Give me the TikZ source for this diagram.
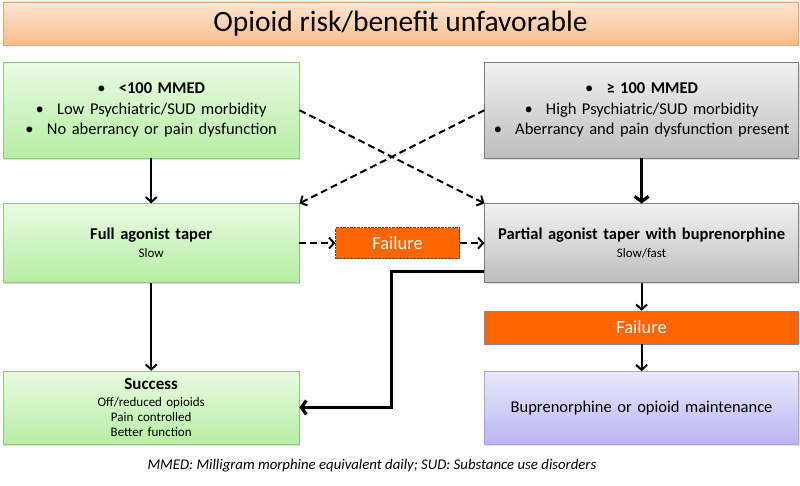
\documentclass[tikz,border=0pt]{standalone}
\usepackage{fontspec}
\setmainfont{Carlito}
\usepackage{tikz}
\usetikzlibrary{positioning, arrows.meta, shadows}
\definecolor{bannertop}{HTML}{FDE6D3}
\definecolor{bannerbot}{HTML}{F9BC8C}
\definecolor{bannerline}{HTML}{F5A66C}
\definecolor{greentop}{HTML}{EAFBE2}
\definecolor{greenbot}{HTML}{B6EEA3}
\definecolor{greenline}{HTML}{8FCB7C}
\definecolor{greytop}{HTML}{F2F2F2}
\definecolor{greybot}{HTML}{BDBDBD}
\definecolor{greyline}{HTML}{7F7F7F}
\definecolor{violettop}{HTML}{EAE8FC}
\definecolor{violetbot}{HTML}{BCB4F2}
\definecolor{violetline}{HTML}{ABA5DA}
\definecolor{failorange}{HTML}{FF6600}
\definecolor{failline}{HTML}{6C8EC8}
\tikzstyle{banner} = [rectangle, inner sep=0pt, minimum width=795pt, minimum height=43pt, draw=bannerline, top color=bannertop, bottom color=bannerbot, font=\fontsize{29.5}{34}\selectfont]
\tikzstyle{greenbox} = [rectangle, inner sep=0pt, minimum width=296pt, text width=292pt, align=center, draw=greenline, top color=greentop, bottom color=greenbot, drop shadow={opacity=0.25, shadow xshift=1pt, shadow yshift=-1.5pt}]
\tikzstyle{greybox} = [rectangle, inner sep=0pt, minimum width=314pt, text width=312pt, align=center, draw=greyline, top color=greytop, bottom color=greybot, drop shadow={opacity=0.25, shadow xshift=1pt, shadow yshift=-1.5pt}]
\tikzstyle{violetbox} = [rectangle, inner sep=0pt, minimum width=314pt, minimum height=73pt, text width=308pt, align=center, draw=violetline, top color=violettop, bottom color=violetbot, font=\fontsize{16.5}{20}\selectfont, drop shadow={opacity=0.25, shadow xshift=1pt, shadow yshift=-1.5pt}]
\tikzstyle{smallfail} = [rectangle, inner sep=0pt, minimum width=124pt, minimum height=31pt, fill=failorange, draw=black!70, densely dotted, text=white, font=\fontsize{18.5}{20}\selectfont]
\tikzstyle{bigfail} = [rectangle, inner sep=0pt, minimum width=314pt, minimum height=33pt, fill=failorange, draw=failline, text=white, font=\fontsize{18.5}{20}\selectfont]
\tikzstyle{arrow} = [line width=2pt, ->, >={Straight Barb[length=5pt,width=11pt]}]
\tikzstyle{dasharrow} = [arrow, dash pattern=on 7pt off 4pt]
\tikzstyle{bigarrow} = [line width=3.2pt, ->, >={Straight Barb[length=5pt,width=14pt]}]
\newcommand{\bul}{\textbullet\hspace{0.8em}}

\begin{document}
\begin{tikzpicture}
    \useasboundingbox (0pt,0pt) rectangle (800pt,-486pt);
    \node (0) [banner] at (400.5pt,-23.5pt) {Opioid risk/benefit unfavorable};
    \node (1) [greenbox, minimum height=96pt, anchor=north west, font=\fontsize{16.5}{20.5}\selectfont] at (3pt,-62pt)
      {\bul\textbf{<100 MMED}\\\bul Low Psychiatric/SUD morbidity\\\bul No aberrancy or pain dysfunction};
    \node (2) [greybox, minimum height=96pt, right=185pt of 1, font=\fontsize{16.5}{20.5}\selectfont]
      {\bul\textbf{≥ 100 MMED}\\\bul High Psychiatric/SUD morbidity\\\bul Aberrancy and pain dysfunction present};
    \node (3) [greenbox, minimum height=79pt, below=45pt of 1, font=\fontsize{16.5}{18}\selectfont]
      {\textbf{Full agonist taper}\\{\fontsize{13}{14}\selectfont Slow}};
    \node (4) [greybox, minimum height=79pt, below=45pt of 2, font=\fontsize{16.5}{18}\selectfont]
      {\textbf{Partial agonist taper with buprenorphine}\\{\fontsize{13}{14}\selectfont Slow/fast}};
    \node (5) [smallfail, right=36pt of 3] {Failure};
    \node (6) [bigfail, below=28pt of 4] {Failure};
    \node (7) [greenbox, minimum height=73pt, below=88pt of 3, font=\fontsize{13}{15}\selectfont]
      {{\fontsize{17}{18}\selectfont\textbf{Success}}\\[2pt]Off/reduced opioids\\Pain controlled\\Better function};
    \node (8) [violetbox, below=27pt of 6] {Buprenorphine or opioid maintenance};
    \node (9) at (372pt,-466pt) {\fontsize{14.8}{17}\selectfont\itshape MMED: Milligram morphine equivalent daily; SUD: Substance use disorders};
    \draw [arrow] (1) -- (3);
    \draw [bigarrow] (2) -- (4);
    \draw [dasharrow] (1.east) -- (4.north west);
    \draw [dasharrow] (2.west) -- (3.north east);
    \draw [dasharrow] (3) -- (5);
    \draw [dasharrow] (5) -- (4);
    \draw [arrow] (3) -- (7);
    \draw [arrow] (4) -- (6);
    \draw [arrow] (6) -- (8);
    \draw [bigarrow] ([yshift=-28.5pt]4.west) -- ++(-93pt,0) |- (7.east);
  \end{tikzpicture}
\end{document}
